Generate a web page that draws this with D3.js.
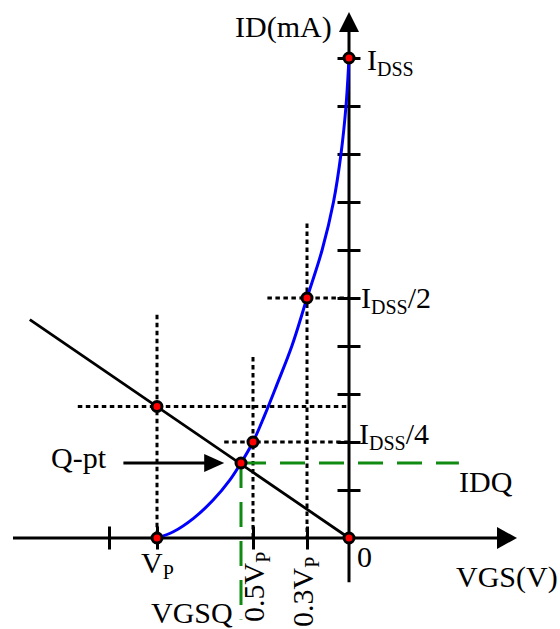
<!DOCTYPE html>
<html>
<head>
<meta charset="utf-8">
<script src="https://cdn.jsdelivr.net/npm/d3@7"></script>
<style>
  html, body { margin: 0; padding: 0; background: #fff; }
  svg { display: block; }
  text { font-family: "Liberation Serif", "Times New Roman", serif; fill: #000; }
</style>
</head>
<body>
<svg id="chart" width="560" height="629"></svg>
<script>
// JFET transfer characteristic with self-bias load line.
// Units: VGS in volts (VP = -4 V), ID in mA (IDSS = 10 mA).

// Transfer curve ID(VGS), sampled along the plotted curve
const curveVgs = [-4, -3.66, -3.24, -2.83, -2.48, -2.25, -2.0, -1.76, -1.5, -1.19, -0.875, -0.56, -0.323, -0.167, -0.0625, 0];
const curveId  = [0, 0.13, 0.41, 0.79, 1.21, 1.5625, 2.0, 2.55, 3.2, 4.0, 5.0, 6.0, 7.0, 8.0, 9.0, 10];

// Self-bias load line ID = -VGS / RS
const loadVgs = [-6.65, 0];
const loadId  = [4.55, 0];

// Marked points: VP, 0, IDSS, IDSS/2, 0.5VP, Q-point, load line at VP
const dotVgs = [-4, 0, 0, -0.875, -2.0, -2.25, -4];
const dotId  = [0, 0, 10, 5.0, 2.0, 1.5625, 2.74];

// Axis ticks
const idTicks  = [1, 2, 3, 4, 5, 6, 7, 8, 9, 10];
const vgsTicks = [-5, -4, -2, -0.875];

// Dotted projection lines: start [vgs, id] and end [vgs, id]
const guideFrom = [[-4, 4.65], [-5.65, 2.74], [-2.0, 3.77], [-2.6, 2.0], [-0.875, 6.55], [-1.7, 5.0]];
const guideTo   = [[-4, 0], [0, 2.74], [-2.0, 0], [0, 2.0], [-0.875, 0], [0, 5.0]];

// Quiescent point and its projections
const qVgs = -2.25;
const qId = 1.5625;
const qIdLineEnd = 2.29;     // VGS where the IDQ dashed line stops
const qVgsLineEnd = -1.7;    // ID where the VGSQ dashed line stops

const svg = d3.select("#chart");

const x = d3.scaleLinear().domain([-7, 3.5]).range([13, 517]);
const y = d3.scaleLinear().domain([0, 10]).range([538, 58]);

const axisX0 = x(0), axisY0 = y(0);

// Dotted guide lines
svg.append("g")
  .selectAll("line")
  .data(guideFrom.map((a, i) => [a, guideTo[i]]))
  .join("line")
  .attr("x1", d => x(d[0][0])).attr("y1", d => y(d[0][1]))
  .attr("x2", d => x(d[1][0])).attr("y2", d => y(d[1][1]))
  .attr("stroke", "#000").attr("stroke-width", 3)
  .attr("stroke-dasharray", "4.5,3.5");

// Green dashed IDQ / VGSQ projections
const green = "#118a11";
svg.append("line")
  .attr("x1", x(qVgs)).attr("y1", y(qId))
  .attr("x2", x(qIdLineEnd)).attr("y2", y(qId))
  .attr("stroke", green).attr("stroke-width", 3)
  .attr("stroke-dasharray", "25,14");
svg.append("line")
  .attr("x1", x(qVgs)).attr("y1", y(qId))
  .attr("x2", x(qVgs)).attr("y2", y(qVgsLineEnd))
  .attr("stroke", green).attr("stroke-width", 3)
  .attr("stroke-dasharray", "25,14");

// Axes lines
svg.append("line")
  .attr("x1", x(-7)).attr("y1", axisY0).attr("x2", x(3.1)).attr("y2", axisY0)
  .attr("stroke", "#000").attr("stroke-width", 3);
svg.append("line")
  .attr("x1", axisX0).attr("y1", y(-0.92)).attr("x2", axisX0).attr("y2", y(10.6))
  .attr("stroke", "#000").attr("stroke-width", 3);

// Arrow heads
svg.append("path")
  .attr("d", `M${x(3.5)},${axisY0} L${x(3.5) - 20},${axisY0 - 11} L${x(3.5) - 20},${axisY0 + 11} Z`)
  .attr("fill", "#000");
svg.append("path")
  .attr("d", `M${axisX0},${y(10.96)} L${axisX0 - 10},${y(10.96) + 20} L${axisX0 + 10},${y(10.96) + 20} Z`)
  .attr("fill", "#000");

// Tick marks centred on the axes
const yAxis = d3.axisRight(y).tickValues(idTicks).tickSize(23).tickFormat("");
svg.append("g").attr("transform", `translate(${axisX0 - 11.5},0)`).call(yAxis)
  .call(g => g.select(".domain").remove())
  .call(g => g.selectAll(".tick line").attr("stroke", "#000").attr("stroke-width", 3));

const xAxis = d3.axisBottom(x).tickValues(vgsTicks).tickSize(23).tickFormat("");
svg.append("g").attr("transform", `translate(0,${axisY0 - 11.5})`).call(xAxis)
  .call(g => g.select(".domain").remove())
  .call(g => g.selectAll(".tick line").attr("stroke", "#000").attr("stroke-width", 3));

// Load line
svg.append("path")
  .datum(loadVgs.map((v, i) => [v, loadId[i]]))
  .attr("d", d3.line().x(d => x(d[0])).y(d => y(d[1])))
  .attr("fill", "none").attr("stroke", "#000").attr("stroke-width", 2.8);

// Transfer curve
svg.append("path")
  .datum(curveVgs.map((v, i) => [v, curveId[i]]))
  .attr("d", d3.line().x(d => x(d[0])).y(d => y(d[1])).curve(d3.curveCatmullRom.alpha(0.5)))
  .attr("fill", "none").attr("stroke", "#0000ff").attr("stroke-width", 3);

// Q-pt arrow
svg.append("line")
  .attr("x1", x(-4.7)).attr("y1", y(qId)).attr("x2", x(-3.0)).attr("y2", y(qId))
  .attr("stroke", "#000").attr("stroke-width", 3);
svg.append("path")
  .attr("d", `M${x(-2.6)},${y(qId)} L${x(-2.6) - 20},${y(qId) - 9} L${x(-2.6) - 20},${y(qId) + 9} Z`)
  .attr("fill", "#000");

// Dots
svg.append("g")
  .selectAll("circle")
  .data(dotVgs.map((v, i) => [v, dotId[i]]))
  .join("circle")
  .attr("cx", d => x(d[0])).attr("cy", d => y(d[1]))
  .attr("r", 5)
  .attr("fill", "#ff0000").attr("stroke", "#000").attr("stroke-width", 3);

// Labels
const big = 30, sub = 20;
function label(px, py, parts, rotate) {
  const t = svg.append("text")
    .attr("font-size", big)
    .attr("transform", `translate(${px},${py})${rotate ? " rotate(-90)" : ""}`);
  let shift = 0;
  parts.forEach(([s, isSub]) => {
    const want = isSub ? 6 : 0;
    t.append("tspan")
      .attr("font-size", isSub ? sub : big)
      .attr("dy", want - shift)
      .text(s);
    shift = want;
  });
  return t;
}

label(235, 37, [["ID(mA)", false]]);
label(367, 70, [["I", false], ["DSS", true]]);
label(361, 308, [["I", false], ["DSS", true], ["/2", false]]);
label(359, 444, [["I", false], ["DSS", true], ["/4", false]]);
label(459, 492, [["IDQ", false]]);
label(51, 468, [["Q-pt", false]]);
label(357, 567, [["0", false]]);
label(456, 587, [["VGS(V)", false]]);
label(141, 573, [["V", false], ["P", true]]);
label(151, 623, [["VGSQ", false]]);
label(264, 622, [["0.5V", false], ["P", true]], true);
label(313, 627, [["0.3V", false], ["P", true]], true);
</script>
</body>
</html>
